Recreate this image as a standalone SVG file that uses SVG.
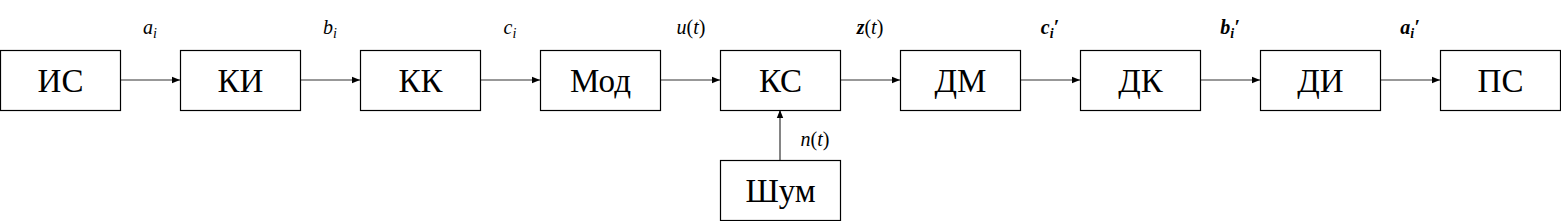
<svg xmlns="http://www.w3.org/2000/svg" width="1561" height="221" viewBox="0 0 1561 221">
<style>
.box{fill:#fff;stroke:#000;stroke-width:1.2}
.bt{font-size:33px;text-anchor:middle;fill:#000}
.lb{font-size:20px;font-style:italic;text-anchor:middle;fill:#000}
.b{font-weight:bold}
.up{font-style:normal}
.sub{font-size:14px}
.conn{stroke:#333;stroke-width:1.2;fill:none;marker-end:url(#ah)}
</style>
<defs>
<marker id="ah" viewBox="0 0 10 10" refX="10" refY="5" markerWidth="8" markerHeight="8" markerUnits="userSpaceOnUse" orient="auto">
<path d="M0,1 L10,5 L0,9 Z" fill="#000"/>
</marker>
</defs>
<rect width="1561" height="221" fill="#fff"/>
<g font-family="Liberation Serif, Times New Roman, Times, serif">
<g id="connectors">
<line class="conn" x1="120" y1="80" x2="180" y2="80"/>
<line class="conn" x1="300" y1="80" x2="360" y2="80"/>
<line class="conn" x1="480" y1="80" x2="540" y2="80"/>
<line class="conn" x1="660" y1="80" x2="720" y2="80"/>
<line class="conn" x1="840" y1="80" x2="900" y2="80"/>
<line class="conn" x1="1020" y1="80" x2="1080" y2="80"/>
<line class="conn" x1="1200" y1="80" x2="1260" y2="80"/>
<line class="conn" x1="1380" y1="80" x2="1440" y2="80"/>
<line class="conn" x1="780" y1="160" x2="780" y2="110"/>
<text class="lb" x="150" y="34">a<tspan class="sub" dy="4">i</tspan></text>
<text class="lb" x="330" y="34">b<tspan class="sub" dy="4">i</tspan></text>
<text class="lb" x="510" y="34">c<tspan class="sub" dy="4">i</tspan></text>
<text class="lb" x="691" y="34">u<tspan class="up">(</tspan>t<tspan class="up">)</tspan></text>
<text class="lb" x="870" y="34"><tspan class="b">z</tspan><tspan class="up">(</tspan>t<tspan class="up">)</tspan></text>
<text class="lb b" x="1050" y="34">c<tspan class="sub" dy="4">i</tspan><tspan dy="-4">′</tspan></text>
<text class="lb b" x="1230" y="34">b<tspan class="sub" dy="4">i</tspan><tspan dy="-4">′</tspan></text>
<text class="lb b" x="1410" y="34">a<tspan class="sub" dy="4">i</tspan><tspan dy="-4">′</tspan></text>
<text class="lb" x="815" y="146">n<tspan class="up">(</tspan>t<tspan class="up">)</tspan></text>
</g>
<g id="n_is"><rect class="box" x="0.5" y="50.5" width="120" height="60"/><text class="bt" x="60.5" y="92">ИС</text></g>
<g id="n_ki"><rect class="box" x="180.5" y="50.5" width="120" height="60"/><text class="bt" x="240.5" y="92">КИ</text></g>
<g id="n_kk"><rect class="box" x="360.5" y="50.5" width="120" height="60"/><text class="bt" x="420.5" y="92">КК</text></g>
<g id="n_mod"><rect class="box" x="540.5" y="50.5" width="120" height="60"/><text class="bt" x="600.5" y="92">Мод</text></g>
<g id="n_ks"><rect class="box" x="720.5" y="50.5" width="120" height="60"/><text class="bt" x="780.5" y="92">КС</text></g>
<g id="n_dm"><rect class="box" x="900.5" y="50.5" width="120" height="60"/><text class="bt" x="960.5" y="92">ДМ</text></g>
<g id="n_dk"><rect class="box" x="1080.5" y="50.5" width="120" height="60"/><text class="bt" x="1140.5" y="92">ДК</text></g>
<g id="n_di"><rect class="box" x="1260.5" y="50.5" width="120" height="60"/><text class="bt" x="1320.5" y="92">ДИ</text></g>
<g id="n_ps"><rect class="box" x="1440.5" y="50.5" width="120" height="60"/><text class="bt" x="1500.5" y="92">ПС</text></g>
<g id="n_shum"><rect class="box" x="720.5" y="160.5" width="120" height="60"/><text class="bt" x="780.5" y="202">Шум</text></g>
</g>
</svg>
